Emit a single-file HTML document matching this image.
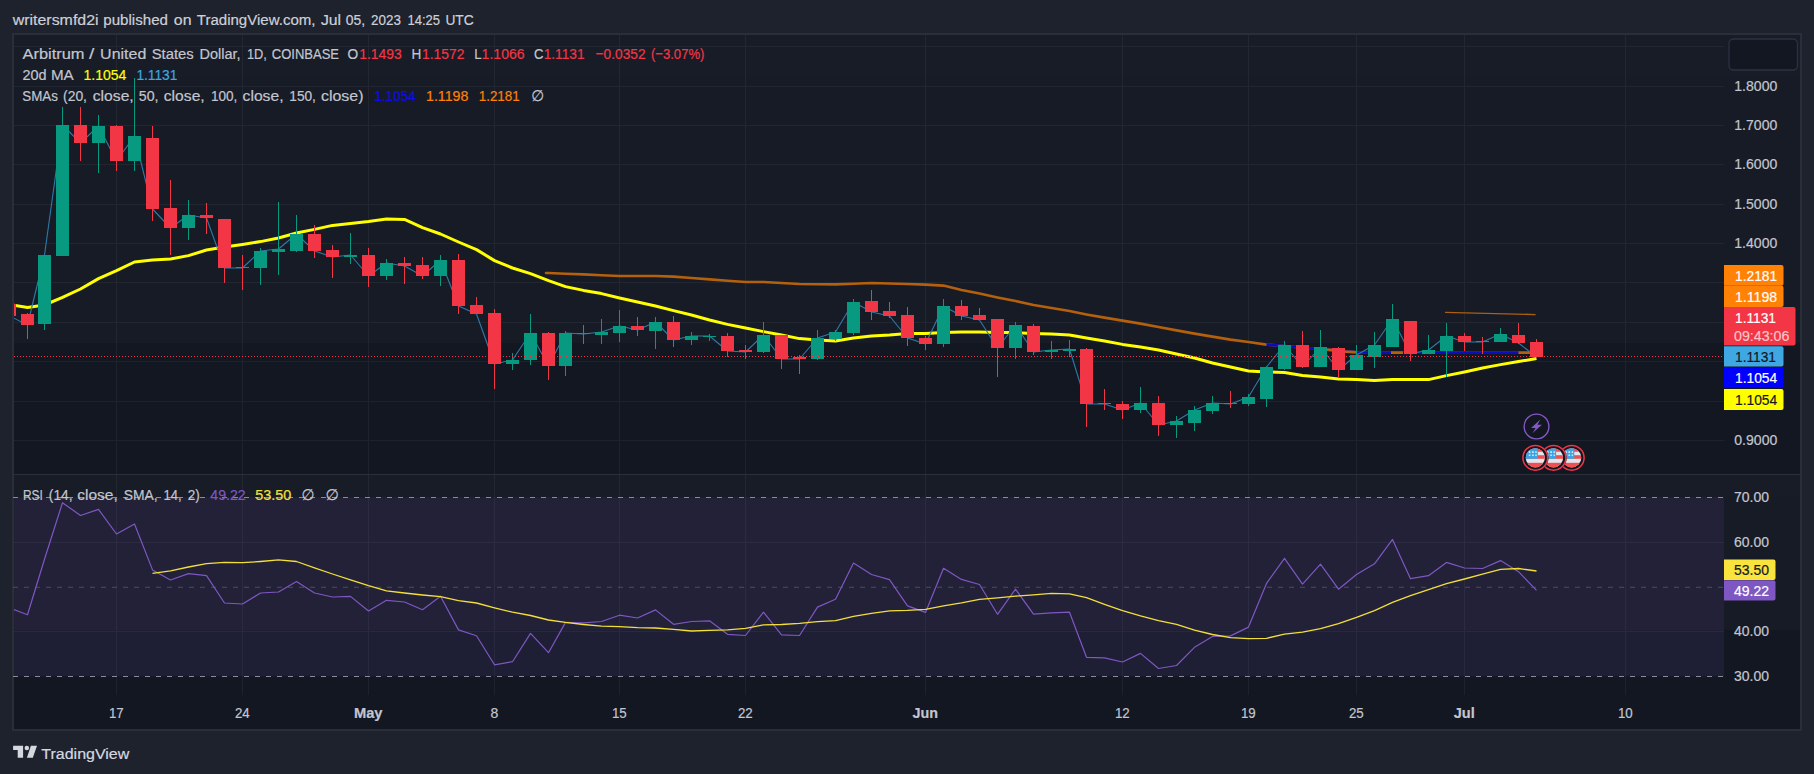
<!DOCTYPE html>
<html><head><meta charset="utf-8"><title>ARBUSD chart</title>
<style>html,body{margin:0;padding:0;background:#1e222d;}body{width:1814px;height:774px;overflow:hidden;position:relative;font-family:"Liberation Sans","DejaVu Sans",sans-serif;}</style>
</head><body>
<svg width="1814" height="774" viewBox="0 0 1814 774" style="position:absolute;left:0;top:0">
<defs>
<clipPath id="cpm"><rect x="14" y="35" width="1710" height="439"/></clipPath>
<clipPath id="cpr"><rect x="14" y="475" width="1710" height="220"/></clipPath>
<clipPath id="flagc"><circle cx="0" cy="0" r="9.6"/></clipPath>
</defs>
<rect x="0" y="0" width="1814" height="774" fill="#1e222d"/>
<rect x="13" y="34" width="1788" height="696" fill="#131722" stroke="#2a2e39" stroke-width="2"/>
<rect x="14" y="35" width="1786" height="42" fill="#181c27"/>
<rect x="14" y="77" width="1786" height="266" fill="#171b26"/>
<rect x="14" y="343" width="1786" height="131" fill="#131722"/>
<rect x="14" y="475" width="1786" height="22" fill="#181c27"/>
<rect x="14" y="497" width="1786" height="133" fill="#171b26"/>
<rect x="14" y="630" width="1786" height="65" fill="#131722"/>
<rect x="14" y="474" width="1786" height="1" fill="#2b2f3b"/>
<path d="M14 46.5 H1724 M14 86.5 H1724 M14 125.5 H1724 M14 164.5 H1724 M14 204.5 H1724 M14 243.5 H1724 M14 282.5 H1724 M14 322.5 H1724 M14 361.5 H1724 M14 401.5 H1724 M14 440.5 H1724 M116.5 35 V474 M116.5 475 V695 M242.5 35 V474 M242.5 475 V695 M368.5 35 V474 M368.5 475 V695 M494.5 35 V474 M494.5 475 V695 M619.5 35 V474 M619.5 475 V695 M745.5 35 V474 M745.5 475 V695 M925.5 35 V474 M925.5 475 V695 M1122.5 35 V474 M1122.5 475 V695 M1248.5 35 V474 M1248.5 475 V695 M1356.5 35 V474 M1356.5 475 V695 M1464.5 35 V474 M1464.5 475 V695 M1625.5 35 V474 M1625.5 475 V695 M14 542.5 H1724 M14 631.5 H1724" stroke="rgba(240,243,250,0.055)" stroke-width="1" fill="none" shape-rendering="crispEdges"/>
<rect x="14" y="497.3" width="1710" height="179" fill="rgba(126,87,194,0.115)"/>
<path d="M13 497.4 H1724" stroke="#8a8d97" stroke-opacity="1" stroke-width="1.05" stroke-dasharray="5 6" fill="none"/>
<path d="M13 587.3 H1724" stroke="#8a8d97" stroke-opacity="0.42" stroke-width="1.05" stroke-dasharray="5 6" fill="none"/>
<path d="M13 676.4 H1724" stroke="#8a8d97" stroke-opacity="1" stroke-width="1.05" stroke-dasharray="5 6" fill="none"/>
<g clip-path="url(#cpm)">
<path d="M1445 312.4 L1535.6 314.6" stroke="#ad5f10" stroke-width="1.4" fill="none"/>
<path d="M546 273 L548.5 273.0 L565.5 273.7 L583.5 274.4 L601.5 275.2 L619.5 276.0 L637.5 276.0 L655.5 276.0 L673.5 276.6 L691.5 278.0 L709.5 279.4 L727.5 280.7 L745.5 282.0 L763.5 282.0 L781.5 283.0 L799.5 284.0 L817.5 284.2 L835.5 284.4 L853.5 283.7 L871.5 283.0 L889.5 283.5 L907.5 284.0 L925.5 284.6 L943.5 285.6 L961.5 290.0 L979.5 293.6 L997.5 297.4 L1015.5 301.0 L1033.5 305.0 L1051.5 308.0 L1069.5 311.0 L1086.5 314.4 L1104.5 317.6 L1122.5 320.6 L1140.5 323.6 L1158.5 327.0 L1176.5 330.4 L1194.5 333.6 L1212.5 336.6 L1230.5 339.6 L1248.5 342.0 L1266.5 344.6 L1284.5 346.0 L1302.5 347.8 L1320.5 349.2 L1338.5 350.5 L1356.5 352.4 L1374.5 352.6 L1392.5 352.6 L1410.5 352.6 L1428.5 352.6 L1446.5 352.6 L1464.5 352.6 L1482.5 352.6 L1500.5 352.6 L1518.5 352.6 L1536.5 352.6" stroke="#b4600c" stroke-width="2.6" fill="none" stroke-linejoin="round" stroke-linecap="round"/>
<path d="M1266.5 344.6 L1284.5 346.0 L1302.5 347.8 L1320.5 349.2 L1338.5 350.5 L1356.5 352.4 L1374.5 352.6 L1392.5 352.6 L1410.5 352.6 L1428.5 352.6 L1446.5 352.6 L1464.5 352.6 L1482.5 352.6 L1500.5 352.6 L1518.5 352.6" stroke="#0b0bc0" stroke-width="2.7" fill="none" stroke-linejoin="round"/>
<path d="M1326 349.6 L1333 350.1 M1345 351.6 L1356 352.3 M1391 352.6 L1403 352.6" stroke="#b4600c" stroke-width="2.6" fill="none"/>
<path d="M9.5 304.5 L27.5 307.6 L44.5 305.0 L62.5 297.4 L80.5 289.0 L98.5 278.6 L116.5 270.6 L134.5 262.0 L152.5 260.0 L170.5 259.0 L188.5 255.6 L206.5 250.0 L224.5 247.0 L242.5 244.4 L260.5 241.6 L278.5 238.0 L296.5 233.0 L314.5 229.4 L332.5 225.4 L350.5 223.6 L368.5 221.6 L386.5 219.0 L404.5 219.4 L422.5 227.6 L440.5 234.0 L458.5 242.0 L476.5 249.6 L494.5 260.6 L512.5 268.0 L530.5 273.6 L548.5 280.6 L565.5 286.6 L583.5 290.4 L601.5 293.6 L619.5 298.0 L637.5 302.0 L655.5 306.0 L673.5 310.6 L691.5 315.0 L709.5 320.0 L727.5 324.4 L745.5 328.0 L763.5 331.6 L781.5 335.0 L799.5 338.6 L817.5 340.0 L835.5 341.0 L853.5 338.0 L871.5 336.0 L889.5 335.0 L907.5 333.6 L925.5 333.6 L943.5 332.6 L961.5 332.0 L979.5 332.0 L997.5 332.4 L1015.5 332.6 L1033.5 333.6 L1051.5 334.0 L1069.5 335.0 L1086.5 338.0 L1104.5 341.0 L1122.5 344.4 L1140.5 347.0 L1158.5 350.0 L1176.5 354.0 L1194.5 358.0 L1212.5 363.0 L1230.5 367.0 L1248.5 371.0 L1266.5 372.0 L1284.5 372.6 L1302.5 375.6 L1320.5 377.0 L1338.5 379.0 L1356.5 379.6 L1374.5 380.6 L1392.5 379.6 L1410.5 379.6 L1428.5 379.6 L1446.5 375.6 L1464.5 372.0 L1482.5 368.0 L1500.5 364.6 L1518.5 361.6 L1536.5 358.6" stroke="#ffff00" stroke-width="3" fill="none" stroke-linejoin="round"/>
<path d="M9.5 316.0 L27.5 325.0 L44.5 255.0 L62.5 125.0 L80.5 143.0 L98.5 126.0 L116.5 161.0 L134.5 136.0 L152.5 209.0 L170.5 228.0 L188.5 215.0 L206.5 218.0 L224.5 268.0 L242.5 268.0 L260.5 251.0 L278.5 249.0 L296.5 234.0 L314.5 251.0 L332.5 257.0 L350.5 255.0 L368.5 276.0 L386.5 263.0 L404.5 266.0 L422.5 276.0 L440.5 260.0 L458.5 306.0 L476.5 314.0 L494.5 364.0 L512.5 360.0 L530.5 333.0 L548.5 366.0 L565.5 333.0 L583.5 334.0 L601.5 332.0 L619.5 326.0 L637.5 330.0 L655.5 322.0 L673.5 340.0 L691.5 336.0 L709.5 336.0 L727.5 351.0 L745.5 352.0 L763.5 335.0 L781.5 359.0 L799.5 359.0 L817.5 338.0 L835.5 332.0 L853.5 302.0 L871.5 312.0 L889.5 316.0 L907.5 338.0 L925.5 344.0 L943.5 306.0 L961.5 316.0 L979.5 320.0 L997.5 348.0 L1015.5 325.0 L1033.5 352.0 L1051.5 350.0 L1069.5 349.0 L1086.5 404.0 L1104.5 404.0 L1122.5 410.0 L1140.5 403.0 L1158.5 425.0 L1176.5 421.0 L1194.5 410.0 L1212.5 403.0 L1230.5 404.0 L1248.5 397.0 L1266.5 367.0 L1284.5 345.0 L1302.5 367.0 L1320.5 347.0 L1338.5 370.0 L1356.5 355.0 L1374.5 345.0 L1392.5 319.0 L1410.5 354.0 L1428.5 350.0 L1446.5 336.0 L1464.5 342.0 L1482.5 342.0 L1500.5 334.0 L1518.5 343.0 L1536.5 357.0" stroke="#2f7aa8" stroke-width="1.1" fill="none" stroke-linejoin="round"/>
<path d="M44 255h1V330h-1Z M38 255h13v69h-13Z M62 107h1V256h-1Z M56 125h13v131h-13Z M98 115h1V173h-1Z M92 126h13v17h-13Z M134 78h1V171h-1Z M128 136h13v25h-13Z M188 200h1V240h-1Z M182 215h13v13h-13Z M260 248h1V285h-1Z M254 251h13v17h-13Z M278 202h1V275h-1Z M272 249h13v3h-13Z M296 215h1V252h-1Z M290 234h13v17h-13Z M350 233h1V264h-1Z M344 255h13v2h-13Z M386 259h1V280h-1Z M380 263h13v13h-13Z M440 255h1V286h-1Z M434 260h13v16h-13Z M512 353h1V370h-1Z M506 360h13v4h-13Z M530 314h1V365h-1Z M524 333h13v27h-13Z M565 331h1V376h-1Z M559 333h13v33h-13Z M601 319h1V344h-1Z M595 332h13v3h-13Z M619 310h1V342h-1Z M613 326h13v7h-13Z M655 317h1V349h-1Z M649 322h13v9h-13Z M691 332h1V345h-1Z M685 336h13v4h-13Z M709 334h1V341h-1Z M703 336h13v1h-13Z M763 322h1V353h-1Z M757 335h13v17h-13Z M817 330h1V360h-1Z M811 338h13v21h-13Z M835 330h1V341h-1Z M829 332h13v7h-13Z M853 299h1V335h-1Z M847 302h13v31h-13Z M943 299h1V347h-1Z M937 306h13v38h-13Z M1015 322h1V359h-1Z M1009 325h13v23h-13Z M1051 341h1V359h-1Z M1045 350h13v2h-13Z M1069 340h1V357h-1Z M1063 349h13v2h-13Z M1140 387h1V413h-1Z M1134 403h13v7h-13Z M1176 416h1V438h-1Z M1170 421h13v4h-13Z M1194 406h1V431h-1Z M1188 410h13v13h-13Z M1212 396h1V414h-1Z M1206 403h13v8h-13Z M1248 394h1V406h-1Z M1242 397h13v7h-13Z M1266 366h1V407h-1Z M1260 367h13v32h-13Z M1284 341h1V370h-1Z M1278 345h13v24h-13Z M1320 330h1V367h-1Z M1314 347h13v20h-13Z M1356 345h1V370h-1Z M1350 355h13v15h-13Z M1374 332h1V368h-1Z M1368 345h13v12h-13Z M1392 304h1V347h-1Z M1386 319h13v28h-13Z M1428 335h1V354h-1Z M1422 350h13v4h-13Z M1446 323h1V377h-1Z M1440 336h13v15h-13Z M1500 328h1V342h-1Z M1494 334h13v8h-13Z" fill="#089981" shape-rendering="crispEdges"/>
<path d="M9 300h1V320h-1Z M3 304h13v12h-13Z M27 313h1V339h-1Z M21 314h13v11h-13Z M80 107h1V161h-1Z M74 125h13v18h-13Z M116 125h1V171h-1Z M110 126h13v35h-13Z M152 126h1V221h-1Z M146 138h13v71h-13Z M170 180h1V255h-1Z M164 208h13v20h-13Z M206 203h1V234h-1Z M200 215h13v3h-13Z M224 219h1V283h-1Z M218 219h13v49h-13Z M242 255h1V290h-1Z M236 267h13v1h-13Z M314 225h1V258h-1Z M308 234h13v17h-13Z M332 245h1V278h-1Z M326 250h13v7h-13Z M368 248h1V287h-1Z M362 255h13v21h-13Z M404 257h1V284h-1Z M398 263h13v3h-13Z M422 257h1V279h-1Z M416 265h13v11h-13Z M458 254h1V314h-1Z M452 260h13v46h-13Z M476 297h1V314h-1Z M470 305h13v9h-13Z M494 309h1V389h-1Z M488 313h13v51h-13Z M548 332h1V380h-1Z M542 333h13v33h-13Z M583 325h1V344h-1Z M577 333h13v1h-13Z M637 317h1V336h-1Z M631 326h13v4h-13Z M673 316h1V347h-1Z M667 322h13v18h-13Z M727 333h1V357h-1Z M721 336h13v15h-13Z M745 345h1V359h-1Z M739 350h13v2h-13Z M781 335h1V369h-1Z M775 335h13v24h-13Z M799 355h1V374h-1Z M793 357h13v2h-13Z M871 290h1V320h-1Z M865 301h13v11h-13Z M889 302h1V318h-1Z M883 311h13v5h-13Z M907 307h1V346h-1Z M901 315h13v23h-13Z M925 336h1V350h-1Z M919 338h13v6h-13Z M961 300h1V320h-1Z M955 306h13v10h-13Z M979 308h1V320h-1Z M973 315h13v5h-13Z M997 319h1V377h-1Z M991 319h13v29h-13Z M1033 324h1V355h-1Z M1027 326h13v26h-13Z M1086 348h1V427h-1Z M1080 349h13v55h-13Z M1104 389h1V410h-1Z M1098 403h13v1h-13Z M1122 401h1V419h-1Z M1116 404h13v6h-13Z M1158 396h1V436h-1Z M1152 403h13v22h-13Z M1230 391h1V408h-1Z M1224 403h13v1h-13Z M1302 331h1V368h-1Z M1296 345h13v22h-13Z M1338 347h1V378h-1Z M1332 348h13v22h-13Z M1410 321h1V361h-1Z M1404 321h13v33h-13Z M1464 333h1V351h-1Z M1458 336h13v6h-13Z M1482 337h1V354h-1Z M1476 341h13v1h-13Z M1518 323h1V344h-1Z M1512 335h13v8h-13Z M1536 339h1V357h-1Z M1530 342h13v15h-13Z" fill="#f23645" shape-rendering="crispEdges"/>
<path d="M14 356.5 H1724" stroke="#f23645" stroke-width="1" stroke-dasharray="1 2" fill="none" shape-rendering="crispEdges"/>
</g>
<g clip-path="url(#cpr)">
<path d="M9.5 608.0 L27.5 614.8 L44.5 559.2 L62.5 502.7 L80.5 515.5 L98.5 509.4 L116.5 534.0 L134.5 524.0 L152.5 569.9 L170.5 580.0 L188.5 573.6 L206.5 575.7 L224.5 603.0 L242.5 604.0 L260.5 593.0 L278.5 592.0 L296.5 581.5 L314.5 593.0 L332.5 597.0 L350.5 596.4 L368.5 611.0 L386.5 600.3 L404.5 602.0 L422.5 609.7 L440.5 596.2 L458.5 629.9 L476.5 635.7 L494.5 664.8 L512.5 661.7 L530.5 633.4 L548.5 652.7 L565.5 622.4 L583.5 622.9 L601.5 621.5 L619.5 615.2 L637.5 618.0 L655.5 609.9 L673.5 624.3 L691.5 621.5 L709.5 620.8 L727.5 634.3 L745.5 635.5 L763.5 612.2 L781.5 634.8 L799.5 635.5 L817.5 607.1 L835.5 599.2 L853.5 563.1 L871.5 574.5 L889.5 579.7 L907.5 605.9 L925.5 612.4 L943.5 568.3 L961.5 579.4 L979.5 584.5 L997.5 614.3 L1015.5 589.2 L1033.5 614.1 L1051.5 612.9 L1069.5 612.2 L1086.5 657.3 L1104.5 657.8 L1122.5 662.0 L1140.5 653.4 L1158.5 668.5 L1176.5 665.5 L1194.5 647.3 L1212.5 636.4 L1230.5 635.9 L1248.5 627.1 L1266.5 583.4 L1284.5 558.3 L1302.5 584.1 L1320.5 564.1 L1338.5 589.2 L1356.5 574.5 L1374.5 563.8 L1392.5 539.4 L1410.5 578.7 L1428.5 575.7 L1446.5 562.4 L1464.5 568.0 L1482.5 568.5 L1500.5 560.6 L1518.5 571.7 L1536.5 590.3" stroke="#7e57c2" stroke-width="1.2" fill="none" stroke-linejoin="round"/>
<path d="M152.5 573.4 L170.5 570.8 L188.5 567.0 L206.5 563.6 L224.5 562.4 L242.5 562.7 L260.5 561.5 L278.5 559.9 L296.5 561.5 L314.5 567.8 L332.5 574.0 L350.5 579.9 L368.5 585.7 L386.5 590.8 L404.5 593.0 L422.5 595.0 L440.5 596.6 L458.5 600.6 L476.5 603.0 L494.5 607.8 L512.5 612.2 L530.5 615.5 L548.5 620.0 L565.5 622.4 L583.5 624.5 L601.5 626.2 L619.5 626.6 L637.5 627.6 L655.5 628.0 L673.5 629.4 L691.5 631.0 L709.5 630.3 L727.5 629.9 L745.5 628.3 L763.5 624.8 L781.5 624.5 L799.5 623.4 L817.5 621.7 L835.5 620.6 L853.5 616.4 L871.5 613.4 L889.5 610.8 L907.5 610.3 L925.5 609.4 L943.5 605.9 L961.5 602.9 L979.5 599.4 L997.5 597.8 L1015.5 596.2 L1033.5 594.8 L1051.5 593.4 L1069.5 593.8 L1086.5 597.6 L1104.5 604.3 L1122.5 610.6 L1140.5 615.9 L1158.5 620.6 L1176.5 624.3 L1194.5 630.1 L1212.5 634.5 L1230.5 637.6 L1248.5 638.7 L1266.5 638.3 L1284.5 634.1 L1302.5 632.2 L1320.5 628.7 L1338.5 623.6 L1356.5 617.3 L1374.5 610.6 L1392.5 602.4 L1410.5 595.7 L1428.5 589.7 L1446.5 583.6 L1464.5 579.0 L1482.5 574.1 L1500.5 569.4 L1518.5 568.5 L1536.5 571.0" stroke="#f2df3a" stroke-width="1.3" fill="none" stroke-linejoin="round"/>
</g>
<g transform="translate(1536.5 426.5)"><circle r="12.4" fill="none" stroke="#8558c8" stroke-width="1.4"/><path d="M3.8 -7 L-5.4 1.5 L-0.9 1.5 L-4.1 6.8 L5.4 -1.7 L1 -1.7 Z" fill="#8558c8"/></g>
<g transform="translate(1571.7 457.8)"><circle r="13.2" fill="#131722"/><circle r="12.4" fill="none" stroke="#f23645" stroke-width="1.5"/><g clip-path="url(#flagc)"><rect x="-10" y="-10" width="20" height="20" fill="#e4e6ee"/><rect x="-10" y="-9.6" width="20" height="3.6" fill="#f0504f"/><rect x="-10" y="-2.6" width="20" height="3.6" fill="#f0504f"/><rect x="-10" y="5" width="20" height="5" fill="#f0504f"/><rect x="-10" y="-10" width="12.6" height="11" fill="#3aa6e6"/><path d="M-6.5 -6.5h1.6v1.6h-1.6z M-3.2 -6.5h1.6v1.6h-1.6z M-6.5 -3.4h1.6v1.6h-1.6z M-3.2 -3.4h1.6v1.6h-1.6z M0 -6.5h1.4v1.6h-1.4z M0 -3.4h1.4v1.6h-1.4z" fill="#e4e6ee"/></g></g>
<g transform="translate(1553.5 457.8)"><circle r="13.2" fill="#131722"/><circle r="12.4" fill="none" stroke="#f23645" stroke-width="1.5"/><g clip-path="url(#flagc)"><rect x="-10" y="-10" width="20" height="20" fill="#e4e6ee"/><rect x="-10" y="-9.6" width="20" height="3.6" fill="#f0504f"/><rect x="-10" y="-2.6" width="20" height="3.6" fill="#f0504f"/><rect x="-10" y="5" width="20" height="5" fill="#f0504f"/><rect x="-10" y="-10" width="12.6" height="11" fill="#3aa6e6"/><path d="M-6.5 -6.5h1.6v1.6h-1.6z M-3.2 -6.5h1.6v1.6h-1.6z M-6.5 -3.4h1.6v1.6h-1.6z M-3.2 -3.4h1.6v1.6h-1.6z M0 -6.5h1.4v1.6h-1.4z M0 -3.4h1.4v1.6h-1.4z" fill="#e4e6ee"/></g></g>
<g transform="translate(1535.3 457.8)"><circle r="13.2" fill="#131722"/><circle r="12.4" fill="none" stroke="#f23645" stroke-width="1.5"/><g clip-path="url(#flagc)"><rect x="-10" y="-10" width="20" height="20" fill="#e4e6ee"/><rect x="-10" y="-9.6" width="20" height="3.6" fill="#f0504f"/><rect x="-10" y="-2.6" width="20" height="3.6" fill="#f0504f"/><rect x="-10" y="5" width="20" height="5" fill="#f0504f"/><rect x="-10" y="-10" width="12.6" height="11" fill="#3aa6e6"/><path d="M-6.5 -6.5h1.6v1.6h-1.6z M-3.2 -6.5h1.6v1.6h-1.6z M-6.5 -3.4h1.6v1.6h-1.6z M-3.2 -3.4h1.6v1.6h-1.6z M0 -6.5h1.4v1.6h-1.4z M0 -3.4h1.4v1.6h-1.4z" fill="#e4e6ee"/></g></g>
<rect x="1729" y="39" width="68.5" height="31" rx="4.5" fill="#131722" stroke="#2c3044" stroke-width="1.3"/>
<text x="1734.3" y="90.6" font-size="15.4" fill="#c3c6cf" stroke="#c3c6cf" stroke-width="0.2" text-anchor="start" font-weight="normal" font-family="'Liberation Sans', 'DejaVu Sans', sans-serif" textLength="43" lengthAdjust="spacingAndGlyphs">1.8000</text>
<text x="1734.3" y="129.6" font-size="15.4" fill="#c3c6cf" stroke="#c3c6cf" stroke-width="0.2" text-anchor="start" font-weight="normal" font-family="'Liberation Sans', 'DejaVu Sans', sans-serif" textLength="43" lengthAdjust="spacingAndGlyphs">1.7000</text>
<text x="1734.3" y="168.6" font-size="15.4" fill="#c3c6cf" stroke="#c3c6cf" stroke-width="0.2" text-anchor="start" font-weight="normal" font-family="'Liberation Sans', 'DejaVu Sans', sans-serif" textLength="43" lengthAdjust="spacingAndGlyphs">1.6000</text>
<text x="1734.3" y="208.6" font-size="15.4" fill="#c3c6cf" stroke="#c3c6cf" stroke-width="0.2" text-anchor="start" font-weight="normal" font-family="'Liberation Sans', 'DejaVu Sans', sans-serif" textLength="43" lengthAdjust="spacingAndGlyphs">1.5000</text>
<text x="1734.3" y="247.6" font-size="15.4" fill="#c3c6cf" stroke="#c3c6cf" stroke-width="0.2" text-anchor="start" font-weight="normal" font-family="'Liberation Sans', 'DejaVu Sans', sans-serif" textLength="43" lengthAdjust="spacingAndGlyphs">1.4000</text>
<text x="1734.3" y="444.6" font-size="15.4" fill="#c3c6cf" stroke="#c3c6cf" stroke-width="0.2" text-anchor="start" font-weight="normal" font-family="'Liberation Sans', 'DejaVu Sans', sans-serif" textLength="43" lengthAdjust="spacingAndGlyphs">0.9000</text>
<text x="1734" y="501.7" font-size="15.4" fill="#c3c6cf" stroke="#c3c6cf" stroke-width="0.2" text-anchor="start" font-weight="normal" font-family="'Liberation Sans', 'DejaVu Sans', sans-serif" textLength="35" lengthAdjust="spacingAndGlyphs">70.00</text>
<text x="1734" y="546.7" font-size="15.4" fill="#c3c6cf" stroke="#c3c6cf" stroke-width="0.2" text-anchor="start" font-weight="normal" font-family="'Liberation Sans', 'DejaVu Sans', sans-serif" textLength="35" lengthAdjust="spacingAndGlyphs">60.00</text>
<text x="1734" y="635.7" font-size="15.4" fill="#c3c6cf" stroke="#c3c6cf" stroke-width="0.2" text-anchor="start" font-weight="normal" font-family="'Liberation Sans', 'DejaVu Sans', sans-serif" textLength="35" lengthAdjust="spacingAndGlyphs">40.00</text>
<text x="1734" y="680.6" font-size="15.4" fill="#c3c6cf" stroke="#c3c6cf" stroke-width="0.2" text-anchor="start" font-weight="normal" font-family="'Liberation Sans', 'DejaVu Sans', sans-serif" textLength="35" lengthAdjust="spacingAndGlyphs">30.00</text>
<path d="M1724 265h57.5q2 0 2 2v16.7q0 2 -2 2h-57.5z" fill="#ff8207"/>
<path d="M1724 285.7h57.5q2 0 2 2v17.2q0 2 -2 2h-57.5z" fill="#ff8207"/>
<path d="M1724 306.9h69.5q2 0 2 2v34.7q0 2 -2 2h-69.5z" fill="#f23645"/>
<path d="M1724 346.3h57.5q2 0 2 2v16.3q0 2 -2 2h-57.5z" fill="#3fa8e2"/>
<path d="M1724 367.4h57.5q2 0 2 2v16.3q0 2 -2 2h-57.5z" fill="#0000ff"/>
<path d="M1724 389h57.5q2 0 2 2v17q0 2 -2 2h-57.5z" fill="#ffff00"/>
<text x="1735" y="280.7" font-size="15.4" fill="#ffffff" stroke="#ffffff" stroke-width="0.2" text-anchor="start" font-weight="normal" font-family="'Liberation Sans', 'DejaVu Sans', sans-serif" textLength="42.2" lengthAdjust="spacingAndGlyphs">1.2181</text>
<text x="1735" y="301.7" font-size="15.4" fill="#ffffff" stroke="#ffffff" stroke-width="0.2" text-anchor="start" font-weight="normal" font-family="'Liberation Sans', 'DejaVu Sans', sans-serif" textLength="42.2" lengthAdjust="spacingAndGlyphs">1.1198</text>
<text x="1735" y="322.5" font-size="15.4" fill="#ffffff" stroke="#ffffff" stroke-width="0.2" text-anchor="start" font-weight="normal" font-family="'Liberation Sans', 'DejaVu Sans', sans-serif" textLength="41" lengthAdjust="spacingAndGlyphs">1.1131</text>
<text x="1734" y="340.6" font-size="15.4" fill="#fbc4c9" stroke="#fbc4c9" stroke-width="0.2" text-anchor="start" font-weight="normal" font-family="'Liberation Sans', 'DejaVu Sans', sans-serif" textLength="55.4" lengthAdjust="spacingAndGlyphs">09:43:06</text>
<text x="1735" y="361.8" font-size="15.4" fill="#131722" stroke="#131722" stroke-width="0.2" text-anchor="start" font-weight="normal" font-family="'Liberation Sans', 'DejaVu Sans', sans-serif" textLength="41" lengthAdjust="spacingAndGlyphs">1.1131</text>
<text x="1735" y="383" font-size="15.4" fill="#ffffff" stroke="#ffffff" stroke-width="0.2" text-anchor="start" font-weight="normal" font-family="'Liberation Sans', 'DejaVu Sans', sans-serif" textLength="42.2" lengthAdjust="spacingAndGlyphs">1.1054</text>
<text x="1735" y="405" font-size="15.4" fill="#131722" stroke="#131722" stroke-width="0.2" text-anchor="start" font-weight="normal" font-family="'Liberation Sans', 'DejaVu Sans', sans-serif" textLength="42.2" lengthAdjust="spacingAndGlyphs">1.1054</text>
<path d="M1724 559.5h49.5q2 0 2 2v16.5q0 2 -2 2h-49.5z" fill="#f9e33d"/>
<path d="M1724 580.3h49.5q2 0 2 2v16.3q0 2 -2 2h-49.5z" fill="#7e57c2"/>
<text x="1734" y="575" font-size="15.4" fill="#131722" stroke="#131722" stroke-width="0.2" text-anchor="start" font-weight="normal" font-family="'Liberation Sans', 'DejaVu Sans', sans-serif" textLength="35" lengthAdjust="spacingAndGlyphs">53.50</text>
<text x="1734" y="596" font-size="15.4" fill="#ffffff" stroke="#ffffff" stroke-width="0.2" text-anchor="start" font-weight="normal" font-family="'Liberation Sans', 'DejaVu Sans', sans-serif" textLength="35" lengthAdjust="spacingAndGlyphs">49.22</text>
<text x="108.9" y="718.1" font-size="15.4" fill="#c3c6cf" stroke="#c3c6cf" stroke-width="0.2" text-anchor="start" font-weight="normal" font-family="'Liberation Sans', 'DejaVu Sans', sans-serif" textLength="14.8" lengthAdjust="spacingAndGlyphs">17</text>
<text x="234.9" y="718.1" font-size="15.4" fill="#c3c6cf" stroke="#c3c6cf" stroke-width="0.2" text-anchor="start" font-weight="normal" font-family="'Liberation Sans', 'DejaVu Sans', sans-serif" textLength="14.8" lengthAdjust="spacingAndGlyphs">24</text>
<text x="353.9" y="718.1" font-size="15.4" fill="#c3c6cf" stroke="#c3c6cf" stroke-width="0.2" text-anchor="start" font-weight="bold" font-family="'Liberation Sans', 'DejaVu Sans', sans-serif" textLength="28.6" lengthAdjust="spacingAndGlyphs">May</text>
<text x="490.4" y="718.1" font-size="15.4" fill="#c3c6cf" stroke="#c3c6cf" stroke-width="0.2" text-anchor="start" font-weight="normal" font-family="'Liberation Sans', 'DejaVu Sans', sans-serif" textLength="7.8" lengthAdjust="spacingAndGlyphs">8</text>
<text x="611.9" y="718.1" font-size="15.4" fill="#c3c6cf" stroke="#c3c6cf" stroke-width="0.2" text-anchor="start" font-weight="normal" font-family="'Liberation Sans', 'DejaVu Sans', sans-serif" textLength="14.8" lengthAdjust="spacingAndGlyphs">15</text>
<text x="737.9" y="718.1" font-size="15.4" fill="#c3c6cf" stroke="#c3c6cf" stroke-width="0.2" text-anchor="start" font-weight="normal" font-family="'Liberation Sans', 'DejaVu Sans', sans-serif" textLength="14.8" lengthAdjust="spacingAndGlyphs">22</text>
<text x="912.5" y="718.1" font-size="15.4" fill="#c3c6cf" stroke="#c3c6cf" stroke-width="0.2" text-anchor="start" font-weight="bold" font-family="'Liberation Sans', 'DejaVu Sans', sans-serif" textLength="25.5" lengthAdjust="spacingAndGlyphs">Jun</text>
<text x="1114.9" y="718.1" font-size="15.4" fill="#c3c6cf" stroke="#c3c6cf" stroke-width="0.2" text-anchor="start" font-weight="normal" font-family="'Liberation Sans', 'DejaVu Sans', sans-serif" textLength="14.8" lengthAdjust="spacingAndGlyphs">12</text>
<text x="1240.9" y="718.1" font-size="15.4" fill="#c3c6cf" stroke="#c3c6cf" stroke-width="0.2" text-anchor="start" font-weight="normal" font-family="'Liberation Sans', 'DejaVu Sans', sans-serif" textLength="14.8" lengthAdjust="spacingAndGlyphs">19</text>
<text x="1348.9" y="718.1" font-size="15.4" fill="#c3c6cf" stroke="#c3c6cf" stroke-width="0.2" text-anchor="start" font-weight="normal" font-family="'Liberation Sans', 'DejaVu Sans', sans-serif" textLength="14.8" lengthAdjust="spacingAndGlyphs">25</text>
<text x="1453.7" y="718.1" font-size="15.4" fill="#c3c6cf" stroke="#c3c6cf" stroke-width="0.2" text-anchor="start" font-weight="bold" font-family="'Liberation Sans', 'DejaVu Sans', sans-serif" textLength="21" lengthAdjust="spacingAndGlyphs">Jul</text>
<text x="1617.9" y="718.1" font-size="15.4" fill="#c3c6cf" stroke="#c3c6cf" stroke-width="0.2" text-anchor="start" font-weight="normal" font-family="'Liberation Sans', 'DejaVu Sans', sans-serif" textLength="14.8" lengthAdjust="spacingAndGlyphs">10</text>
<text x="12.7" y="25.4" font-size="15.4" fill="#cdd0d8" stroke="#cdd0d8" stroke-width="0.2" text-anchor="start" font-weight="normal" font-family="'Liberation Sans', 'DejaVu Sans', sans-serif" textLength="85.9" lengthAdjust="spacingAndGlyphs">writersmfd2i</text>
<text x="103.3" y="25.4" font-size="15.4" fill="#cdd0d8" stroke="#cdd0d8" stroke-width="0.2" text-anchor="start" font-weight="normal" font-family="'Liberation Sans', 'DejaVu Sans', sans-serif" textLength="64.7" lengthAdjust="spacingAndGlyphs">published</text>
<text x="173.8" y="25.4" font-size="15.4" fill="#cdd0d8" stroke="#cdd0d8" stroke-width="0.2" text-anchor="start" font-weight="normal" font-family="'Liberation Sans', 'DejaVu Sans', sans-serif" textLength="17.7" lengthAdjust="spacingAndGlyphs">on</text>
<text x="196.8" y="25.4" font-size="15.4" fill="#cdd0d8" stroke="#cdd0d8" stroke-width="0.2" text-anchor="start" font-weight="normal" font-family="'Liberation Sans', 'DejaVu Sans', sans-serif" textLength="118.7" lengthAdjust="spacingAndGlyphs">TradingView.com,</text>
<text x="320.9" y="25.4" font-size="15.4" fill="#cdd0d8" stroke="#cdd0d8" stroke-width="0.2" text-anchor="start" font-weight="normal" font-family="'Liberation Sans', 'DejaVu Sans', sans-serif" textLength="20.2" lengthAdjust="spacingAndGlyphs">Jul</text>
<text x="345.7" y="25.4" font-size="15.4" fill="#cdd0d8" stroke="#cdd0d8" stroke-width="0.2" text-anchor="start" font-weight="normal" font-family="'Liberation Sans', 'DejaVu Sans', sans-serif" textLength="19.4" lengthAdjust="spacingAndGlyphs">05,</text>
<text x="371.0" y="25.4" font-size="15.4" fill="#cdd0d8" stroke="#cdd0d8" stroke-width="0.2" text-anchor="start" font-weight="normal" font-family="'Liberation Sans', 'DejaVu Sans', sans-serif" textLength="29.9" lengthAdjust="spacingAndGlyphs">2023</text>
<text x="407.4" y="25.4" font-size="15.4" fill="#cdd0d8" stroke="#cdd0d8" stroke-width="0.2" text-anchor="start" font-weight="normal" font-family="'Liberation Sans', 'DejaVu Sans', sans-serif" textLength="32.6" lengthAdjust="spacingAndGlyphs">14:25</text>
<text x="445.4" y="25.4" font-size="15.4" fill="#cdd0d8" stroke="#cdd0d8" stroke-width="0.2" text-anchor="start" font-weight="normal" font-family="'Liberation Sans', 'DejaVu Sans', sans-serif" textLength="28.3" lengthAdjust="spacingAndGlyphs">UTC</text>
<text x="22.5" y="59" font-size="15.4" fill="#c3c6cf" stroke="#c3c6cf" stroke-width="0.2" text-anchor="start" font-weight="normal" font-family="'Liberation Sans', 'DejaVu Sans', sans-serif" textLength="62.0" lengthAdjust="spacingAndGlyphs">Arbitrum</text>
<text x="89.1" y="59" font-size="15.4" fill="#c3c6cf" stroke="#c3c6cf" stroke-width="0.2" text-anchor="start" font-weight="normal" font-family="'Liberation Sans', 'DejaVu Sans', sans-serif" textLength="5.3" lengthAdjust="spacingAndGlyphs">/</text>
<text x="100.1" y="59" font-size="15.4" fill="#c3c6cf" stroke="#c3c6cf" stroke-width="0.2" text-anchor="start" font-weight="normal" font-family="'Liberation Sans', 'DejaVu Sans', sans-serif" textLength="46.2" lengthAdjust="spacingAndGlyphs">United</text>
<text x="151.7" y="59" font-size="15.4" fill="#c3c6cf" stroke="#c3c6cf" stroke-width="0.2" text-anchor="start" font-weight="normal" font-family="'Liberation Sans', 'DejaVu Sans', sans-serif" textLength="42.0" lengthAdjust="spacingAndGlyphs">States</text>
<text x="199.5" y="59" font-size="15.4" fill="#c3c6cf" stroke="#c3c6cf" stroke-width="0.2" text-anchor="start" font-weight="normal" font-family="'Liberation Sans', 'DejaVu Sans', sans-serif" textLength="41.1" lengthAdjust="spacingAndGlyphs">Dollar,</text>
<text x="246.9" y="59" font-size="15.4" fill="#c3c6cf" stroke="#c3c6cf" stroke-width="0.2" text-anchor="start" font-weight="normal" font-family="'Liberation Sans', 'DejaVu Sans', sans-serif" textLength="19.9" lengthAdjust="spacingAndGlyphs">1D,</text>
<text x="271.8" y="59" font-size="15.4" fill="#c3c6cf" stroke="#c3c6cf" stroke-width="0.2" text-anchor="start" font-weight="normal" font-family="'Liberation Sans', 'DejaVu Sans', sans-serif" textLength="67.2" lengthAdjust="spacingAndGlyphs">COINBASE</text>
<text x="347.5" y="59" font-size="15.4" fill="#c3c6cf" stroke="#c3c6cf" stroke-width="0.2" text-anchor="start" font-weight="normal" font-family="'Liberation Sans', 'DejaVu Sans', sans-serif" textLength="10.7" lengthAdjust="spacingAndGlyphs">O</text>
<text x="411.6" y="59" font-size="15.4" fill="#c3c6cf" stroke="#c3c6cf" stroke-width="0.2" text-anchor="start" font-weight="normal" font-family="'Liberation Sans', 'DejaVu Sans', sans-serif" textLength="9.8" lengthAdjust="spacingAndGlyphs">H</text>
<text x="474.3" y="59" font-size="15.4" fill="#c3c6cf" stroke="#c3c6cf" stroke-width="0.2" text-anchor="start" font-weight="normal" font-family="'Liberation Sans', 'DejaVu Sans', sans-serif" textLength="7.3" lengthAdjust="spacingAndGlyphs">L</text>
<text x="534.0" y="59" font-size="15.4" fill="#c3c6cf" stroke="#c3c6cf" stroke-width="0.2" text-anchor="start" font-weight="normal" font-family="'Liberation Sans', 'DejaVu Sans', sans-serif" textLength="9.4" lengthAdjust="spacingAndGlyphs">C</text>
<text x="359.2" y="59" font-size="15.4" fill="#f23645" stroke="#f23645" stroke-width="0.2" text-anchor="start" font-weight="normal" font-family="'Liberation Sans', 'DejaVu Sans', sans-serif" textLength="42.6" lengthAdjust="spacingAndGlyphs">1.1493</text>
<text x="422.0" y="59" font-size="15.4" fill="#f23645" stroke="#f23645" stroke-width="0.2" text-anchor="start" font-weight="normal" font-family="'Liberation Sans', 'DejaVu Sans', sans-serif" textLength="42.4" lengthAdjust="spacingAndGlyphs">1.1572</text>
<text x="481.6" y="59" font-size="15.4" fill="#f23645" stroke="#f23645" stroke-width="0.2" text-anchor="start" font-weight="normal" font-family="'Liberation Sans', 'DejaVu Sans', sans-serif" textLength="43.0" lengthAdjust="spacingAndGlyphs">1.1066</text>
<text x="543.7" y="59" font-size="15.4" fill="#f23645" stroke="#f23645" stroke-width="0.2" text-anchor="start" font-weight="normal" font-family="'Liberation Sans', 'DejaVu Sans', sans-serif" textLength="40.9" lengthAdjust="spacingAndGlyphs">1.1131</text>
<text x="595.6" y="59" font-size="15.4" fill="#f23645" stroke="#f23645" stroke-width="0.2" text-anchor="start" font-weight="normal" font-family="'Liberation Sans', 'DejaVu Sans', sans-serif" textLength="50.0" lengthAdjust="spacingAndGlyphs">−0.0352</text>
<text x="650.9" y="59" font-size="15.4" fill="#f23645" stroke="#f23645" stroke-width="0.2" text-anchor="start" font-weight="normal" font-family="'Liberation Sans', 'DejaVu Sans', sans-serif" textLength="53.6" lengthAdjust="spacingAndGlyphs">(−3.07%)</text>
<text x="22.4" y="80" font-size="15.4" fill="#c3c6cf" stroke="#c3c6cf" stroke-width="0.2" text-anchor="start" font-weight="normal" font-family="'Liberation Sans', 'DejaVu Sans', sans-serif" textLength="24.1" lengthAdjust="spacingAndGlyphs">20d</text>
<text x="50.9" y="80" font-size="15.4" fill="#c3c6cf" stroke="#c3c6cf" stroke-width="0.2" text-anchor="start" font-weight="normal" font-family="'Liberation Sans', 'DejaVu Sans', sans-serif" textLength="22.8" lengthAdjust="spacingAndGlyphs">MA</text>
<text x="83.5" y="80" font-size="15.4" fill="#ffff00" stroke="#ffff00" stroke-width="0.2" text-anchor="start" font-weight="normal" font-family="'Liberation Sans', 'DejaVu Sans', sans-serif" textLength="42.9" lengthAdjust="spacingAndGlyphs">1.1054</text>
<text x="136.4" y="80" font-size="15.4" fill="#3fa8e2" stroke="#3fa8e2" stroke-width="0.2" text-anchor="start" font-weight="normal" font-family="'Liberation Sans', 'DejaVu Sans', sans-serif" textLength="41.0" lengthAdjust="spacingAndGlyphs">1.1131</text>
<text x="22.3" y="101" font-size="15.4" fill="#c3c6cf" stroke="#c3c6cf" stroke-width="0.2" text-anchor="start" font-weight="normal" font-family="'Liberation Sans', 'DejaVu Sans', sans-serif" textLength="35.6" lengthAdjust="spacingAndGlyphs">SMAs</text>
<text x="63.0" y="101" font-size="15.4" fill="#c3c6cf" stroke="#c3c6cf" stroke-width="0.2" text-anchor="start" font-weight="normal" font-family="'Liberation Sans', 'DejaVu Sans', sans-serif" textLength="24.0" lengthAdjust="spacingAndGlyphs">(20,</text>
<text x="92.8" y="101" font-size="15.4" fill="#c3c6cf" stroke="#c3c6cf" stroke-width="0.2" text-anchor="start" font-weight="normal" font-family="'Liberation Sans', 'DejaVu Sans', sans-serif" textLength="40.9" lengthAdjust="spacingAndGlyphs">close,</text>
<text x="138.8" y="101" font-size="15.4" fill="#c3c6cf" stroke="#c3c6cf" stroke-width="0.2" text-anchor="start" font-weight="normal" font-family="'Liberation Sans', 'DejaVu Sans', sans-serif" textLength="19.7" lengthAdjust="spacingAndGlyphs">50,</text>
<text x="163.8" y="101" font-size="15.4" fill="#c3c6cf" stroke="#c3c6cf" stroke-width="0.2" text-anchor="start" font-weight="normal" font-family="'Liberation Sans', 'DejaVu Sans', sans-serif" textLength="40.9" lengthAdjust="spacingAndGlyphs">close,</text>
<text x="210.9" y="101" font-size="15.4" fill="#c3c6cf" stroke="#c3c6cf" stroke-width="0.2" text-anchor="start" font-weight="normal" font-family="'Liberation Sans', 'DejaVu Sans', sans-serif" textLength="26.4" lengthAdjust="spacingAndGlyphs">100,</text>
<text x="242.6" y="101" font-size="15.4" fill="#c3c6cf" stroke="#c3c6cf" stroke-width="0.2" text-anchor="start" font-weight="normal" font-family="'Liberation Sans', 'DejaVu Sans', sans-serif" textLength="40.9" lengthAdjust="spacingAndGlyphs">close,</text>
<text x="289.3" y="101" font-size="15.4" fill="#c3c6cf" stroke="#c3c6cf" stroke-width="0.2" text-anchor="start" font-weight="normal" font-family="'Liberation Sans', 'DejaVu Sans', sans-serif" textLength="26.6" lengthAdjust="spacingAndGlyphs">150,</text>
<text x="321.0" y="101" font-size="15.4" fill="#c3c6cf" stroke="#c3c6cf" stroke-width="0.2" text-anchor="start" font-weight="normal" font-family="'Liberation Sans', 'DejaVu Sans', sans-serif" textLength="42.5" lengthAdjust="spacingAndGlyphs">close)</text>
<text x="531.2" y="101" font-size="15.4" fill="#c3c6cf" stroke="#c3c6cf" stroke-width="0.2" text-anchor="start" font-weight="normal" font-family="'Liberation Sans', 'DejaVu Sans', sans-serif" textLength="12.9" lengthAdjust="spacingAndGlyphs">∅</text>
<text x="374.2" y="101" font-size="15.4" fill="#0c0cec" stroke="#0c0cec" stroke-width="0.2" text-anchor="start" font-weight="normal" font-family="'Liberation Sans', 'DejaVu Sans', sans-serif" textLength="41.7" lengthAdjust="spacingAndGlyphs">1.1054</text>
<text x="426.0" y="101" font-size="15.4" fill="#ff8207" stroke="#ff8207" stroke-width="0.2" text-anchor="start" font-weight="normal" font-family="'Liberation Sans', 'DejaVu Sans', sans-serif" textLength="42.4" lengthAdjust="spacingAndGlyphs">1.1198</text>
<text x="478.7" y="101" font-size="15.4" fill="#ff8207" stroke="#ff8207" stroke-width="0.2" text-anchor="start" font-weight="normal" font-family="'Liberation Sans', 'DejaVu Sans', sans-serif" textLength="41.1" lengthAdjust="spacingAndGlyphs">1.2181</text>
<text x="22.9" y="500.4" font-size="15.4" fill="#c3c6cf" stroke="#c3c6cf" stroke-width="0.2" text-anchor="start" font-weight="normal" font-family="'Liberation Sans', 'DejaVu Sans', sans-serif" textLength="19.9" lengthAdjust="spacingAndGlyphs">RSI</text>
<text x="48.8" y="500.4" font-size="15.4" fill="#c3c6cf" stroke="#c3c6cf" stroke-width="0.2" text-anchor="start" font-weight="normal" font-family="'Liberation Sans', 'DejaVu Sans', sans-serif" textLength="23.7" lengthAdjust="spacingAndGlyphs">(14,</text>
<text x="77.3" y="500.4" font-size="15.4" fill="#c3c6cf" stroke="#c3c6cf" stroke-width="0.2" text-anchor="start" font-weight="normal" font-family="'Liberation Sans', 'DejaVu Sans', sans-serif" textLength="40.5" lengthAdjust="spacingAndGlyphs">close,</text>
<text x="123.7" y="500.4" font-size="15.4" fill="#c3c6cf" stroke="#c3c6cf" stroke-width="0.2" text-anchor="start" font-weight="normal" font-family="'Liberation Sans', 'DejaVu Sans', sans-serif" textLength="33.9" lengthAdjust="spacingAndGlyphs">SMA,</text>
<text x="163.5" y="500.4" font-size="15.4" fill="#c3c6cf" stroke="#c3c6cf" stroke-width="0.2" text-anchor="start" font-weight="normal" font-family="'Liberation Sans', 'DejaVu Sans', sans-serif" textLength="18.1" lengthAdjust="spacingAndGlyphs">14,</text>
<text x="187.8" y="500.4" font-size="15.4" fill="#c3c6cf" stroke="#c3c6cf" stroke-width="0.2" text-anchor="start" font-weight="normal" font-family="'Liberation Sans', 'DejaVu Sans', sans-serif" textLength="12.1" lengthAdjust="spacingAndGlyphs">2)</text>
<text x="301.6" y="500.4" font-size="15.4" fill="#c3c6cf" stroke="#c3c6cf" stroke-width="0.2" text-anchor="start" font-weight="normal" font-family="'Liberation Sans', 'DejaVu Sans', sans-serif" textLength="13.0" lengthAdjust="spacingAndGlyphs">∅</text>
<text x="325.6" y="500.4" font-size="15.4" fill="#c3c6cf" stroke="#c3c6cf" stroke-width="0.2" text-anchor="start" font-weight="normal" font-family="'Liberation Sans', 'DejaVu Sans', sans-serif" textLength="13.4" lengthAdjust="spacingAndGlyphs">∅</text>
<text x="210.3" y="500.4" font-size="15.4" fill="#7e57c2" stroke="#7e57c2" stroke-width="0.2" text-anchor="start" font-weight="normal" font-family="'Liberation Sans', 'DejaVu Sans', sans-serif" textLength="35.4" lengthAdjust="spacingAndGlyphs">49.22</text>
<text x="255.3" y="500.4" font-size="15.4" fill="#f5e03b" stroke="#f5e03b" stroke-width="0.2" text-anchor="start" font-weight="normal" font-family="'Liberation Sans', 'DejaVu Sans', sans-serif" textLength="35.9" lengthAdjust="spacingAndGlyphs">53.50</text>
<path d="M13.1 745.8H23.1V757.8H17.7V750H13.1Z" fill="#d6d8e0"/><circle cx="26.8" cy="748.1" r="2.25" fill="#d6d8e0"/><path d="M30.9 745.8H37L32.8 757.8H26.9Z" fill="#d6d8e0"/>
<text x="41.3" y="758.9" font-size="15.4" fill="#d6d8e0" stroke="#d6d8e0" stroke-width="0.2" text-anchor="start" font-weight="normal" font-family="'Liberation Sans', 'DejaVu Sans', sans-serif" textLength="88" lengthAdjust="spacingAndGlyphs">TradingView</text>
</svg>
</body></html>
